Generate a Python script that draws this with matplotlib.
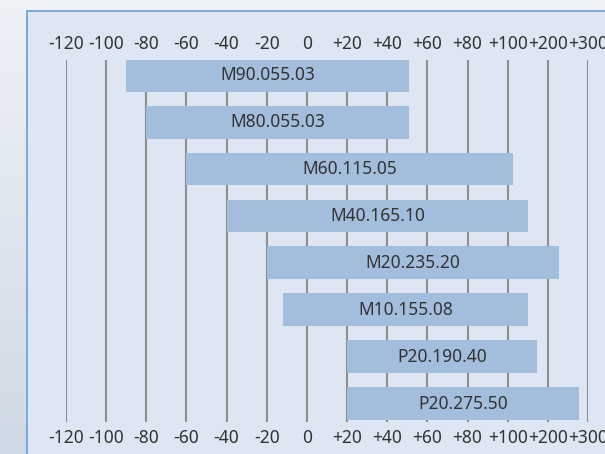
import numpy as np
import matplotlib
matplotlib.use("Agg")
import matplotlib.pyplot as plt
from matplotlib.patches import Rectangle

plt.rcParams['font.family'] = ['Noto Sans', 'DejaVu Sans']

# Product temperature ranges
products = ["M90.055.03", "M80.055.03", "M60.115.05", "M40.165.10",
            "M20.235.20", "M10.155.08", "P20.190.40", "P20.275.50"]
range_low = [-90, -80, -60, -40, -20, -12, 20, 20]
range_high = [51, 51, 113, 151, 228, 151, 173, 278]

tick_values = [-120, -100, -80, -60, -40, -20, 0, 20, 40, 60, 80, 100, 200, 300]
tick_labels = ["-120", "-100", "-80", "-60", "-40", "-20", "0", "+20", "+40",
               "+60", "+80", "+100", "+200", "+300"]

BAR_COLOR = "#a3bedd"
PANEL_COLOR = "#dde6f2"
BORDER_COLOR = "#7ba7d8"
GRID_COLOR = "#8e8e8e"
TEXT_COLOR = "#333333"


# Axis is linear in steps of 20 up to +100, then steps of 100
def fwd(v):
    v = np.asarray(v, dtype=float)
    return np.where(v <= 100, (v + 120) / 20.0, 11 + (v - 100) / 100.0)


def inv(p):
    p = np.asarray(p, dtype=float)
    return np.where(p <= 11, p * 20.0 - 120, 100 + (p - 11) * 100.0)


W, H = 605, 454
fig = plt.figure(figsize=(W / 100, H / 100), dpi=100)

# Page background gradient and framed panel
bg = fig.add_axes([0, 0, 1, 1])
bg.set_axis_off()
grad = np.linspace(0, 1, 256)[:, None]
top_c = np.array([0xef, 0xf2, 0xf7]) / 255
bot_c = np.array([0xcf, 0xd9, 0xe5]) / 255
img = top_c[None, None, :] * (1 - grad[:, :, None]) + bot_c[None, None, :] * grad[:, :, None]
bg.imshow(img, aspect='auto', extent=[0, 1, 0, 1], origin='upper')
bg.add_patch(Rectangle((26.5 / W, -0.01), 1.0, 1 - 10.5 / H + 0.01,
                       facecolor=PANEL_COLOR, edgecolor=BORDER_COLOR, lw=1.4,
                       transform=bg.transAxes))
bg.set_xlim(0, 1)
bg.set_ylim(0, 1)

# Main chart area
x0, x1 = 66, 588
y0, y1 = 60, 422
ax = fig.add_axes([x0 / W, 1 - y1 / H, (x1 - x0) / W, (y1 - y0) / H])
ax.set_facecolor('none')
ax.set_xscale('function', functions=(fwd, inv))
ax.set_xlim(-120, 300)
n = len(products)
ax.set_ylim(n - 1 + 0.394, -0.326)

for s in ax.spines.values():
    s.set_visible(False)

ax.set_xticks(tick_values)
ax.set_xticklabels(tick_labels)
ax.set_yticks([])
ax.tick_params(axis='x', length=0, top=True, labeltop=True, bottom=True,
               labelbottom=True, labelsize=12.5, labelcolor=TEXT_COLOR, pad=5)
for lab in ax.get_xticklabels():
    lab.set_clip_on(False)

ax.grid(axis='x', color=GRID_COLOR, lw=1.5)
ax.set_axisbelow(True)

ypos = np.arange(n)
widths = np.array(range_high) - np.array(range_low)
ax.barh(ypos, widths, left=range_low, height=0.70, color=BAR_COLOR, zorder=2)

for i, name in enumerate(products):
    mid = float(inv((fwd(range_low[i]) + fwd(range_high[i])) / 2))
    ax.text(mid, i, name, ha='center', va='center', fontsize=12.5,
            color=TEXT_COLOR, zorder=3)

fig.savefig("out.png", dpi=100)
